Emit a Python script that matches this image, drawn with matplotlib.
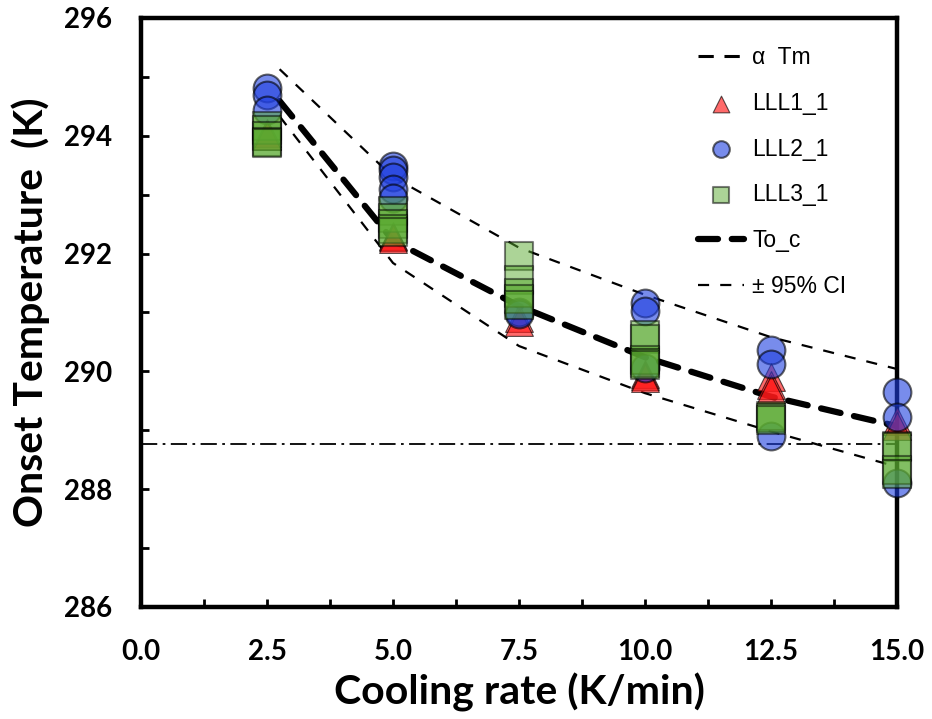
import matplotlib
matplotlib.use("Agg")
import matplotlib.pyplot as plt
from matplotlib.lines import Line2D
from matplotlib.ticker import MultipleLocator, FormatStrFormatter

# replicate onset temperatures (K) per cooling rate (K/min)
lll1_x = [2.5, 2.5, 5, 5, 5, 7.5, 7.5, 10, 10, 10, 12.5, 12.5, 12.5, 15, 15]
lll1_y = [294.05, 294.0, 292.3, 292.28, 292.25, 290.9, 290.84, 289.95, 289.92, 289.88,
          289.9, 289.77, 289.7, 289.15, 289.07]

lll2_x = [2.5, 2.5, 2.5, 5, 5, 5, 5, 5, 7.5, 7.5, 10, 10, 10, 12.5, 12.5, 12.5, 15, 15, 15]
lll2_y = [294.81, 294.69, 294.43, 293.48, 293.42, 293.3, 293.1, 292.95, 291.0, 290.97,
          291.16, 291.02, 290.05, 290.36, 290.12, 288.9, 289.65, 289.23, 288.11]

lll3_x = [2.5, 2.5, 2.5, 2.5, 2.5, 5, 5, 5, 5, 5, 7.5, 7.5, 7.5, 7.5, 7.5,
          10, 10, 10, 10, 10, 12.5, 12.5, 12.5, 15, 15, 15, 15]
lll3_y = [294.16, 294.1, 294.0, 293.9, 293.87, 292.73, 292.6, 292.5, 292.42, 292.37,
          291.96, 291.55, 291.33, 291.23, 291.13, 290.62, 290.55, 290.19, 290.15, 290.1,
          289.25, 289.2, 289.18, 288.74, 288.72, 288.32, 288.25]

# fitted onset curve and its confidence band
fit_x = [2.75, 5, 7.5, 10, 12.5, 15]
to_c = [294.59, 292.22, 291.11, 290.24, 289.57, 289.07]
ci_upper = [295.13, 293.3, 292.1, 291.3, 290.58, 290.04]
ci_lower = [294.33, 291.84, 290.43, 289.63, 288.98, 288.38]

alpha_tm = 288.76

axis_font = "Lato"
legend_font = "Liberation Sans"

fig = plt.figure(figsize=(9.32, 7.19), dpi=100)
ax = fig.add_axes([0.1513, 0.1558, 0.8112, 0.8192])

ax.axhline(alpha_tm, color="black", lw=1.3, dashes=(9, 3, 1.5, 3), zorder=1)

ms = 400
tri = ax.scatter(lll1_x, lll1_y, s=ms, marker="^", color="#FF1A1A", alpha=0.65,
                 edgecolors="black", linewidths=0.8, zorder=3, clip_on=False)
circ = ax.scatter(lll2_x, lll2_y, s=ms, marker="o", color="#1F3FE0", alpha=0.6,
                  edgecolors="black", linewidths=1.5, zorder=4, clip_on=False)
sq = ax.scatter(lll3_x, lll3_y, s=ms, marker="s", color="#5AAA30", alpha=0.5,
                edgecolors="black", linewidths=1.5, zorder=5, clip_on=False)

fit_line, = ax.plot(fit_x, to_c, color="black", lw=4.5, dashes=(3.2, 2.2),
                    dash_capstyle="round", zorder=2)
ci_line, = ax.plot(fit_x, ci_upper, color="black", lw=1.6, dashes=(5, 5), zorder=2)
ax.plot(fit_x, ci_lower, color="black", lw=1.6, dashes=(5, 5), zorder=2)

ax.set_xlim(0, 15)
ax.set_ylim(286, 296)
ax.xaxis.set_major_locator(MultipleLocator(2.5))
ax.xaxis.set_minor_locator(MultipleLocator(1.25))
ax.yaxis.set_major_locator(MultipleLocator(2))
ax.yaxis.set_minor_locator(MultipleLocator(1))
ax.xaxis.set_major_formatter(FormatStrFormatter("%.1f"))
ax.yaxis.set_major_formatter(FormatStrFormatter("%d"))

for side in ax.spines.values():
    side.set_linewidth(3.2)
ax.tick_params(which="both", direction="in", length=6, width=2, top=False, right=False)
ax.tick_params(axis="x", which="major", pad=23)
ax.tick_params(axis="y", which="major", pad=21)
for lbl in ax.get_xticklabels() + ax.get_yticklabels():
    lbl.set_fontfamily(axis_font)
    lbl.set_fontweight("bold")
    lbl.set_fontsize(20)

ax.set_xlabel("Cooling rate (K/min)", fontfamily=axis_font, fontweight="bold", fontsize=29.5)
ax.set_ylabel("Onset Temperature  (K)", fontfamily=axis_font, fontweight="bold", fontsize=29.5)
ax.xaxis.set_label_coords(0.5, -0.112)
ax.yaxis.set_label_coords(-0.12, 0.5)

tm_handle = Line2D([], [], color="black", lw=2.2, dashes=(5, 3.5))
leg = ax.legend([tm_handle, tri, circ, sq, fit_line, ci_line],
                ["α  Tm", "LLL1_1", "LLL2_1", "LLL3_1", "To_c", "± 95% CI"],
                loc="upper left", bbox_to_anchor=(0.71, 0.988), frameon=False,
                markerscale=0.6, handlelength=2.0, handletextpad=0.35,
                labelspacing=1.0, prop={"family": legend_font, "size": 16.5})

fig.savefig("out.png", dpi=100)
